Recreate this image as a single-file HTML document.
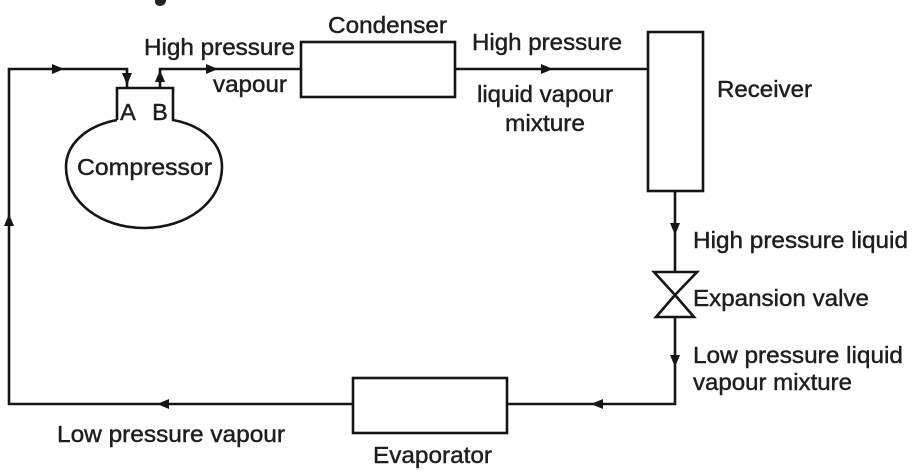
<!DOCTYPE html>
<html>
<head>
<meta charset="utf-8">
<style>
  html, body { margin: 0; padding: 0; background: #ffffff; }
  body { width: 913px; height: 474px; overflow: hidden; }
  svg { display: block; }
  text { font-family: "Liberation Sans", Arial, sans-serif; font-size: 23.5px; fill: #1e1e1e; stroke: #1e1e1e; stroke-width: 0.45px; }
</style>
</head>
<body>
<svg width="913" height="474" viewBox="0 0 913 474" xmlns="http://www.w3.org/2000/svg">
  <rect width="913" height="474" fill="#ffffff"/>

  <!-- fragment at top -->
  <path d="M155,0 L166,0 C166,4 163,6 160,6 C157,6 155,4 155,2 Z" fill="#222"/>

  <g fill="none" stroke="#151515" stroke-width="2.6" stroke-linejoin="miter">
    <!-- left loop to A -->
    <path d="M127,88 L127,69 L9,69 L9,404 L353,404"/>
    <!-- B to condenser -->
    <path d="M160,88 L160,69 L301,69"/>
    <!-- condenser -->
    <rect x="301" y="42" width="154" height="55"/>
    <!-- condenser to receiver -->
    <path d="M455,69 L648,69"/>
    <!-- receiver -->
    <rect x="648" y="32" width="55" height="159"/>
    <!-- receiver to valve -->
    <path d="M675,191 L675,272"/>
    <!-- valve -->
    <path d="M654,272 L697,272 L675,295 Z"/>
    <path d="M675,295 L656,317 L694,317 Z"/>
    <!-- valve to evaporator -->
    <path d="M675,317 L675,404 L507,404"/>
    <!-- evaporator -->
    <rect x="353" y="378" width="154" height="55"/>
    <!-- compressor -->
    <path d="M117,120 L117,88 L173,88 L173,120 C205,126 222,145 222,167 C222,202 187,228 144,228 C101,228 66,202 66,167 C66,145 85,126 117,120"/>
  </g>

  <!-- arrowheads -->
  <g fill="#151515">
    <polygon points="64,69 52,64 52,74"/>
    <polygon points="127,85 122,73 132,73"/>
    <polygon points="160,70 155,82 165,82"/>
    <polygon points="218,69 206,64 206,74"/>
    <polygon points="553,69 541,64 541,74"/>
    <polygon points="675,235 670,223 680,223"/>
    <polygon points="675,367 670,355 680,355"/>
    <polygon points="591,404 603,399 603,409"/>
    <polygon points="157,404 169,399 169,409"/>
    <polygon points="9,214 4,226 14,226"/>
  </g>

  <!-- labels -->
  <text x="144" y="55" textLength="151" lengthAdjust="spacingAndGlyphs">High pressure</text>
  <text x="213" y="92" textLength="74" lengthAdjust="spacingAndGlyphs">vapour</text>
  <text x="328" y="33" textLength="119" lengthAdjust="spacingAndGlyphs">Condenser</text>
  <text x="472" y="50" textLength="150" lengthAdjust="spacingAndGlyphs">High pressure</text>
  <text x="477" y="102" textLength="136" lengthAdjust="spacingAndGlyphs">liquid vapour</text>
  <text x="505" y="131" textLength="80" lengthAdjust="spacingAndGlyphs">mixture</text>
  <text x="717" y="97" textLength="95" lengthAdjust="spacingAndGlyphs">Receiver</text>
  <text x="693" y="248" textLength="215" lengthAdjust="spacingAndGlyphs">High pressure liquid</text>
  <text x="693" y="306" textLength="176" lengthAdjust="spacingAndGlyphs">Expansion valve</text>
  <text x="693" y="363" textLength="210" lengthAdjust="spacingAndGlyphs">Low pressure liquid</text>
  <text x="693" y="390" textLength="159" lengthAdjust="spacingAndGlyphs">vapour mixture</text>
  <text x="57" y="442" textLength="228" lengthAdjust="spacingAndGlyphs">Low pressure vapour</text>
  <text x="373" y="463" textLength="119" lengthAdjust="spacingAndGlyphs">Evaporator</text>
  <text x="77" y="175" textLength="135" lengthAdjust="spacingAndGlyphs">Compressor</text>
  <text x="128" y="120" text-anchor="middle">A</text>
  <text x="160" y="120" text-anchor="middle">B</text>
</svg>
</body>
</html>
